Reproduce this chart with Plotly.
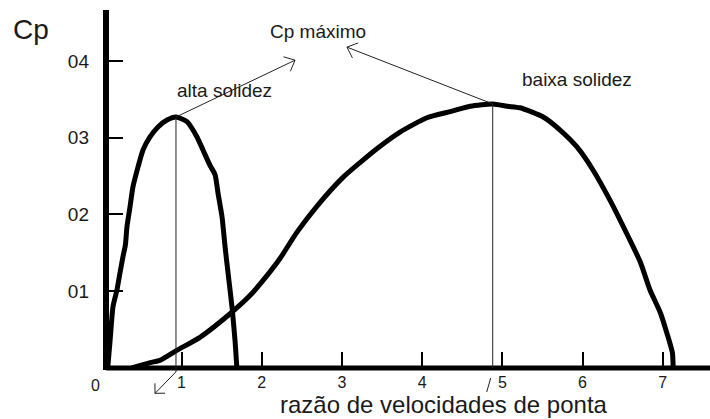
import math
import plotly.graph_objects as go

# ---------------- data ----------------
alta_x = [0.08, 0.11, 0.146, 0.196, 0.233, 0.27, 0.30, 0.32, 0.358, 0.395, 0.458, 0.52,
          0.607, 0.707, 0.819, 0.931, 1.068, 1.193, 1.268, 1.355, 1.418, 1.455, 1.505,
          1.543, 1.58, 1.63, 1.667, 1.69]
alta_cp = [0.0, 0.036, 0.080, 0.102, 0.124, 0.145, 0.160, 0.184, 0.210, 0.236, 0.262, 0.284,
           0.301, 0.314, 0.323, 0.327, 0.321, 0.301, 0.284, 0.264, 0.252, 0.228, 0.197,
           0.158, 0.124, 0.079, 0.036, 0.0]

baixa_x = [0.38, 0.61, 0.73, 0.94, 1.23, 1.62, 1.85, 2.07, 2.23, 2.44, 2.69, 3.01, 3.23,
           3.44, 3.72, 4.06, 4.35, 4.60, 4.88, 5.06, 5.22, 5.51, 5.72, 5.93, 6.13, 6.34,
           6.57, 6.72, 6.84, 6.97, 7.05, 7.12, 7.13]
baixa_cp = [0.0, 0.007, 0.010, 0.023, 0.040, 0.072, 0.094, 0.121, 0.143, 0.177, 0.211,
            0.248, 0.268, 0.286, 0.307, 0.326, 0.334, 0.341, 0.344, 0.341, 0.339, 0.327,
            0.310, 0.288, 0.258, 0.219, 0.171, 0.138, 0.102, 0.072, 0.046, 0.020, 0.0]

x_tick_vals = [1, 2, 3, 4, 5, 6, 7]
x_tick_text = ["1", "2", "3", "4", "5", "6", "7"]
y_tick_vals = [0.1, 0.2, 0.3, 0.4]
y_tick_text = ["01", "02", "03", "04"]

x_title = "razão de velocidades de ponta"
y_title = "Cp"
label_max = "Cp máximo"
label_alta = "alta solidez"
label_baixa = "baixa solidez"

# arrow tips (data units) for the "Cp máximo" arrows and the small arrow near 1
tip_alta = (2.415, 0.401)
tip_baixa = (3.063, 0.418)
tip_low = (0.67, -0.033)

# ---------------- layout geometry ----------------
W, H = 710, 419
ML, MR, MT, MB = 106, 0, 10, 51
X0, X1 = 0.0586, 7.589
Y0, Y1 = 0.0, 0.4664
pw, ph = W - ML - MR, H - MT - MB
FONT = "Liberation Sans, Arial, sans-serif"
TXT = "#1a1a1a"


def d2px(x, y):
    return ML + (x - X0) / (X1 - X0) * pw, MT + (Y1 - y) / (Y1 - Y0) * ph


def px2paper(px, py):
    return (px - ML) / pw, (H - MB - py) / ph


def line_shape(p0, p1, width=1, color="#222"):
    a = px2paper(*p0)
    b = px2paper(*p1)
    return dict(type="line", xref="paper", yref="paper", x0=a[0], y0=a[1], x1=b[0], y1=b[1],
                line=dict(color=color, width=width), layer="above")


def arrow_shapes(start, tip, barb=12, ang=42):
    sx, sy = d2px(*start)
    tx, ty = d2px(*tip)
    dx, dy = sx - tx, sy - ty
    n = math.hypot(dx, dy)
    ux, uy = dx / n, dy / n
    out = [line_shape((sx, sy), (tx, ty))]
    for s in (1, -1):
        a = math.radians(ang * s)
        bx = ux * math.cos(a) - uy * math.sin(a)
        by = ux * math.sin(a) + uy * math.cos(a)
        out.append(line_shape((tx, ty), (tx + bx * barb, ty + by * barb)))
    return out


ia = alta_cp.index(max(alta_cp))
ib = baixa_cp.index(max(baixa_cp))
peak_a = (alta_x[ia], alta_cp[ia])
peak_b = (baixa_x[ib], baixa_cp[ib])

fig = go.Figure()
fig.add_trace(go.Scatter(x=alta_x, y=alta_cp, mode="lines",
                         line=dict(color="black", width=5, shape="spline", smoothing=0.6),
                         hoverinfo="skip", showlegend=False))
fig.add_trace(go.Scatter(x=baixa_x, y=baixa_cp, mode="lines",
                         line=dict(color="black", width=5, shape="spline", smoothing=0.6),
                         hoverinfo="skip", showlegend=False))

shapes = []
# axes lines
shapes.append(line_shape((ML, H - MB), (W, H - MB), width=5, color="black"))
shapes.append(line_shape((ML, MT), (ML, H - MB + 2), width=6, color="black"))
# vertical lines under the peaks
pa = d2px(*peak_a)
pb = d2px(*peak_b)
shapes.append(line_shape(pa, (pa[0], H - MB + 4), width=1))
shapes.append(line_shape(pb, (pb[0], H - MB), width=1))
# small slash below the baixa peak line
shapes.append(line_shape((pb[0] - 6, H - MB + 24), (pb[0] - 2, H - MB + 10), width=1))
# arrows
shapes += arrow_shapes(peak_a, tip_alta)
shapes += arrow_shapes(peak_b, tip_baixa)
shapes += arrow_shapes((peak_a[0], -0.005), tip_low, barb=10, ang=45)


def ann(text, px, py, size, xanchor="center"):
    x, y = px2paper(px, py)
    return dict(text=text, x=x, y=y, xref="paper", yref="paper", showarrow=False,
                xanchor=xanchor, yanchor="middle",
                font=dict(family=FONT, size=size, color=TXT))


annotations = [
    ann(y_title, 31, 29, 28),
    ann(label_max, 318, 32, 19),
    ann(label_alta, 224, 90, 19),
    ann(label_baixa, 577, 80, 19),
    ann("0", 95, 385, 16),
    ann(x_title, 444, 404, 24),
]

fig.update_layout(
    width=W, height=H,
    margin=dict(l=ML, r=MR, t=MT, b=MB, pad=0),
    paper_bgcolor="white", plot_bgcolor="white",
    showlegend=False,
    xaxis=dict(range=[X0, X1], showgrid=False, zeroline=False, showline=False,
               tickmode="array", tickvals=x_tick_vals, ticktext=x_tick_text,
               ticks="inside", ticklen=16, tickwidth=2, tickcolor="black",
               tickfont=dict(family=FONT, size=16, color=TXT), ticklabelstandoff=3),
    yaxis=dict(range=[Y0, Y1], showgrid=False, zeroline=False, showline=False,
               tickmode="array", tickvals=y_tick_vals, ticktext=y_tick_text,
               ticks="inside", ticklen=17, tickwidth=2, tickcolor="black",
               tickfont=dict(family=FONT, size=19, color=TXT), ticklabelstandoff=16),
    shapes=shapes,
    annotations=annotations,
)

fig.write_html("out.html", config={"displayModeBar": False},
               post_script="document.body.style.margin='0px';")
